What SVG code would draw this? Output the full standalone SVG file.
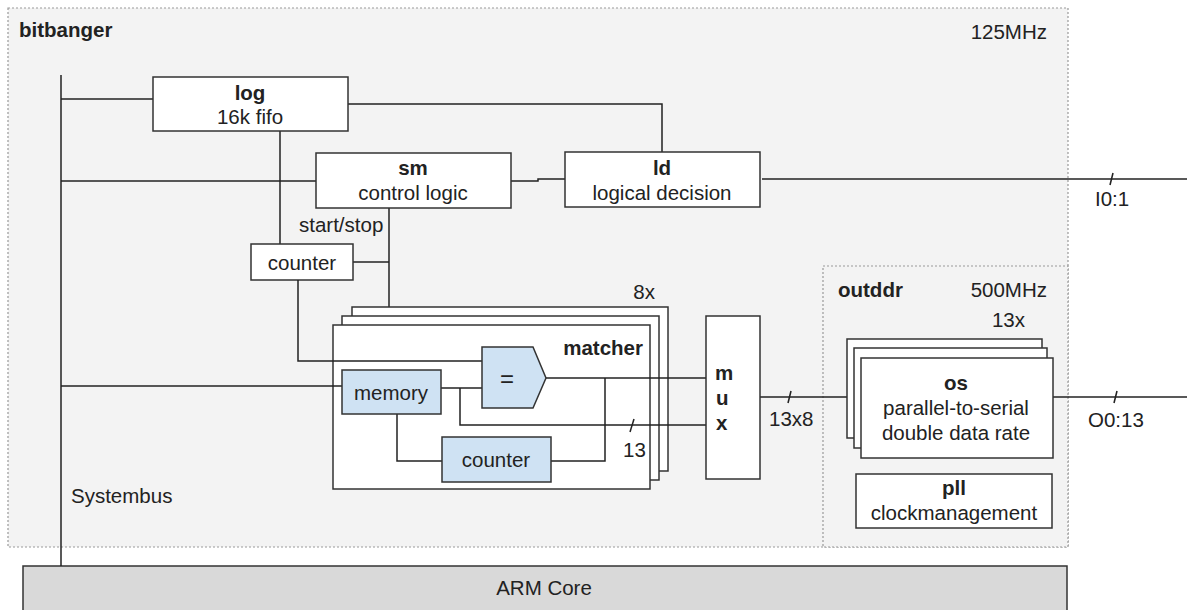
<svg xmlns="http://www.w3.org/2000/svg" width="1187" height="610" viewBox="0 0 1187 610">
<style>
text{font-family:"Liberation Sans",Arial,sans-serif;font-size:20.5px;fill:#222}
.b{font-weight:bold}
.c{text-anchor:middle}
.e{text-anchor:end}
.box{fill:#fff;stroke:#333;stroke-width:1.5}
.blue{fill:#cfe2f3;stroke:#333;stroke-width:1.5}
.dot{fill:#f3f3f3;stroke:#999;stroke-width:1.2;stroke-dasharray:2 2}
.ln{fill:none;stroke:#222;stroke-width:1.5}
</style>
<rect width="1187" height="610" fill="#fff"/>
<g id="bitbanger">
<rect class="dot" x="8" y="8" width="1060" height="539"/>
<text class="b" x="19" y="37">bitbanger</text>
<text class="e" x="1047" y="39">125MHz</text>
</g>
<g id="outddr">
<rect class="dot" x="823" y="266" width="245" height="281"/>
<text class="b" x="838" y="297">outddr</text>
<text class="e" x="1047" y="297">500MHz</text>
<text class="e" x="1025" y="327">13x</text>
</g>
<g id="arm">
<rect x="23" y="566" width="1044" height="50" fill="#d9d9d9" stroke="#333" stroke-width="1.5"/>
<text class="c" x="544" y="595">ARM Core</text>
</g>
<g id="connectors">
<line class="ln" x1="61" y1="75" x2="61" y2="566"/>
<line class="ln" x1="61" y1="99" x2="153" y2="99"/>
<line class="ln" x1="61" y1="181" x2="316" y2="181"/>
<polyline class="ln" points="348,104 662,104 662,152"/>
<polyline class="ln" points="511,181 538,181 538,179 565,179"/>
<line class="ln" x1="762" y1="179" x2="1187" y2="179"/>
<line class="ln" x1="1110" y1="185" x2="1113" y2="173"/>
<line class="ln" x1="280" y1="131" x2="280" y2="244"/>
<line class="ln" x1="389" y1="208" x2="389" y2="307"/>
<line class="ln" x1="353" y1="262" x2="389" y2="262"/>
<line class="ln" x1="760" y1="397" x2="847" y2="397"/>
<line class="ln" x1="788" y1="403" x2="791" y2="391"/>
<line class="ln" x1="1053" y1="397" x2="1187" y2="397"/>
<line class="ln" x1="1114" y1="403" x2="1117" y2="391"/>
</g>
<text x="1095" y="206">I0:1</text>
<text x="1088" y="427">O0:13</text>
<g id="log">
<rect class="box" x="153" y="77" width="195" height="54"/>
<text class="b c" x="250" y="100">log</text>
<text class="c" x="250" y="124">16k fifo</text>
</g>
<g id="sm">
<rect class="box" x="316" y="153" width="195" height="55"/>
<text class="b c" x="413" y="175">sm</text>
<text class="c" x="413" y="200">control logic</text>
</g>
<g id="ld">
<rect class="box" x="565" y="152" width="195" height="55"/>
<text class="b c" x="662" y="175">ld</text>
<text class="c" x="662" y="200">logical decision</text>
</g>
<text x="299" y="232">start/stop</text>
<g id="counter">
<rect class="box" x="251" y="244" width="102" height="36"/>
<text class="c" x="302" y="270">counter</text>
</g>
<g id="matcher">
<rect class="box" x="352" y="307" width="316" height="164"/>
<rect class="box" x="342" y="316" width="317" height="164"/>
<rect class="box" x="333" y="325" width="317" height="164"/>
<text class="e" x="655" y="299">8x</text>
<text class="b e" x="643" y="355">matcher</text>
<g id="matcher-wires">
<polyline class="ln" points="298,280 298,361 482,361"/>
<line class="ln" x1="61" y1="386" x2="342" y2="386"/>
<line class="ln" x1="441" y1="388" x2="482" y2="388"/>
<polyline class="ln" points="460,388 460,425 706,425"/>
<line class="ln" x1="546" y1="378" x2="706" y2="378"/>
<polyline class="ln" points="605,378 605,461 551,461"/>
<polyline class="ln" points="397,414 397,461 442,461"/>
<line class="ln" x1="630" y1="432" x2="634" y2="419"/>
</g>
<g id="eq">
<polygon class="blue" points="482,347 533,347 546,378 533,408 482,408"/>
<text class="c" x="507" y="387" style="font-size:24px">=</text>
</g>
<g id="memory">
<rect class="blue" x="342" y="370" width="99" height="44"/>
<text class="c" x="391" y="400">memory</text>
</g>
<g id="counter2">
<rect class="blue" x="442" y="437" width="109" height="45"/>
<text class="c" x="496" y="467">counter</text>
</g>
<text x="623" y="457">13</text>
</g>
<g id="mux">
<rect class="box" x="706" y="316" width="54" height="163"/>
<text class="b" x="715" y="380">m</text>
<text class="b" x="716" y="405">u</text>
<text class="b" x="716" y="430">x</text>
</g>
<text x="769" y="426">13x8</text>
<g id="os">
<rect class="box" x="847" y="339" width="195" height="99"/>
<rect class="box" x="854" y="348" width="193" height="100"/>
<rect class="box" x="861" y="358" width="192" height="100"/>
<text class="b c" x="956" y="390">os</text>
<text class="c" x="956" y="415">parallel-to-serial</text>
<text class="c" x="956" y="440">double data rate</text>
</g>
<g id="pll">
<rect class="box" x="856" y="474" width="196" height="54"/>
<text class="b c" x="954" y="495">pll</text>
<text class="c" x="954" y="520">clockmanagement</text>
</g>
<text x="71" y="503">Systembus</text>
</svg>
